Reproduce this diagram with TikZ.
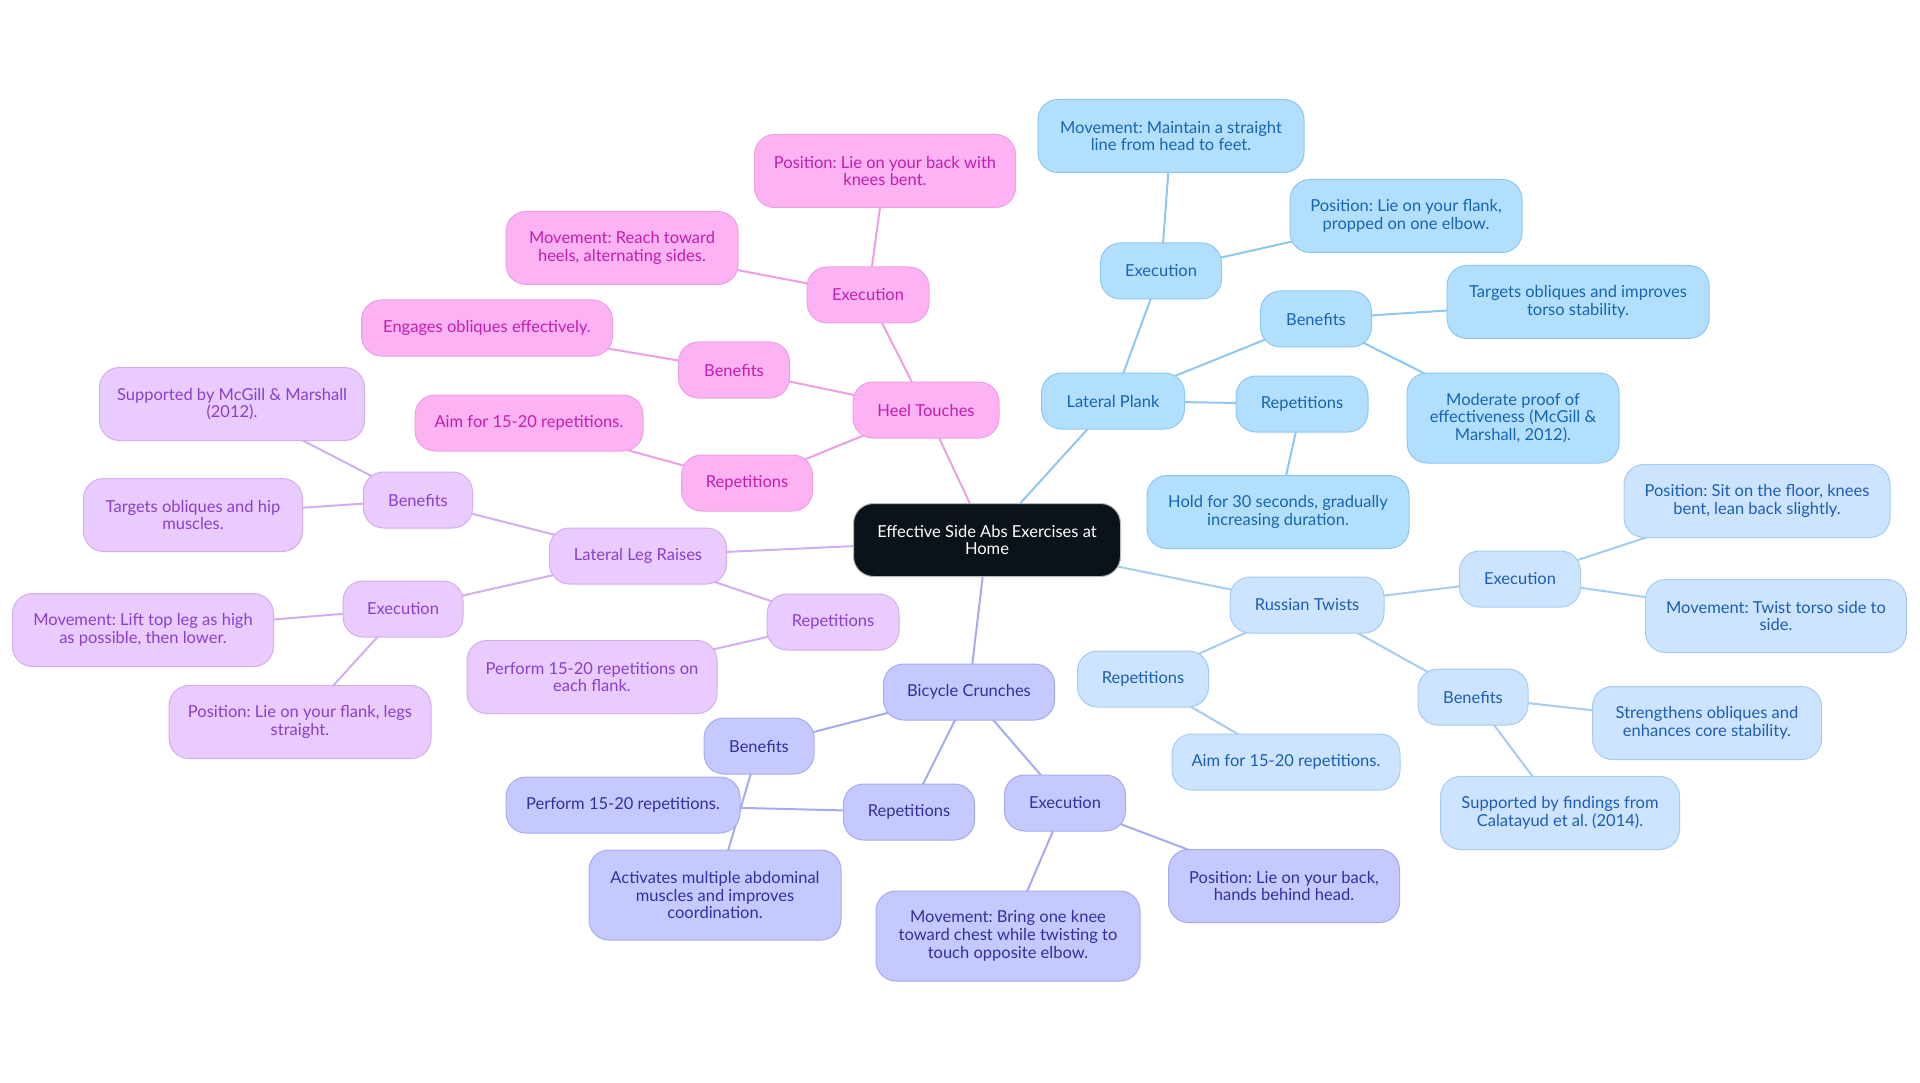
\documentclass[tikz,border=0pt]{standalone}
\usepackage{fontspec}
\setmainfont{Lato}
\usepackage{tikz}
\usetikzlibrary{backgrounds}
\frenchspacing
\definecolor{rootCol}{HTML}{0B1219}
\definecolor{pkFill}{HTML}{FDB3F3}
\definecolor{pkLine}{HTML}{EBA0E3}
\definecolor{pkText}{HTML}{C21DB0}
\definecolor{lvFill}{HTML}{EACBFF}
\definecolor{lvLine}{HTML}{D2AEF0}
\definecolor{lvText}{HTML}{8A3FCB}
\definecolor{pwFill}{HTML}{C6C9FF}
\definecolor{pwLine}{HTML}{A6AAF0}
\definecolor{pwText}{HTML}{30309F}
\definecolor{buFill}{HTML}{B3DFFF}
\definecolor{buLine}{HTML}{8FC7F0}
\definecolor{buText}{HTML}{1565B0}
\definecolor{skFill}{HTML}{CCE4FF}
\definecolor{skLine}{HTML}{A6CBF0}
\definecolor{skText}{HTML}{1C5DB5}
\tikzset{
  box/.style={draw, line width=1pt, rounded corners=20pt, align=center, inner xsep=4pt,
              inner ysep=2pt, minimum height=56pt, font=\fontsize{16.5}{17.7}\selectfont},
  two/.style={minimum height=73pt},
  three/.style={minimum height=90pt},
  hub/.style={box, fill=rootCol, draw=gray!55, text=white},
  pk/.style={box, fill=pkFill, draw=pkLine, text=pkText},
  lv/.style={box, fill=lvFill, draw=lvLine, text=lvText},
  pw/.style={box, fill=pwFill, draw=pwLine, text=pwText},
  bu/.style={box, fill=buFill, draw=buLine, text=buText},
  sk/.style={box, fill=skFill, draw=skLine, text=skText},
  wire/.style={line width=2pt},
}

\begin{document}
\begin{tikzpicture}[x=1pt, y=-1pt]
  \useasboundingbox (0,0) rectangle (1920,1083);
  \node[hub, two, minimum width=267pt] (root) at (987,540) {Effective Side Abs Exercises at\\Home};

  % heel touches
  \node[pk, minimum width=146pt] (ht) at (926,410) {Heel Touches};
  \node[pk, minimum width=122pt] (htexe) at (868,295) {Execution};
  \node[pk, two, minimum width=261pt] (htpos) at (885,171) {Position: Lie on your back with\\knees bent.};
  \node[pk, two, minimum width=232pt] (htmov) at (622,248) {Movement: Reach toward\\heels, alternating sides.};
  \node[pk, minimum width=111pt] (htben) at (734,370) {Benefits};
  \node[pk, minimum width=251pt] (hteng) at (487,328) {Engages obliques effectively.};
  \node[pk, minimum width=131pt] (htrep) at (747,483) {Repetitions};
  \node[pk, minimum width=228pt] (htaim) at (529,423) {Aim for 15-20 repetitions.};

  % lateral leg raises
  \node[lv, minimum width=177pt] (llr) at (638,556) {Lateral Leg Raises};
  \node[lv, minimum width=109pt] (llrben) at (418,500) {Benefits};
  \node[lv, two, minimum width=265pt] (llrsup) at (232,404) {Supported by McGill \& Marshall\\(2012).};
  \node[lv, two, minimum width=219pt] (llrtar) at (193,515) {Targets obliques and hip\\muscles.};
  \node[lv, minimum width=120pt] (llrexe) at (403,609) {Execution};
  \node[lv, two, minimum width=261pt] (llrmov) at (143,630) {Movement: Lift top leg as high\\as possible, then lower.};
  \node[lv, two, minimum width=262pt] (llrpos) at (300,722) {Position: Lie on your flank, legs\\straight.};
  \node[lv, minimum width=132pt] (llrrep) at (833,622) {Repetitions};
  \node[lv, two, minimum width=250pt] (llrperf) at (592,677) {Perform 15-20 repetitions on\\each flank.};

  % bicycle crunches
  \node[pw, minimum width=171pt] (bc) at (969,692) {Bicycle Crunches};
  \node[pw, minimum width=110pt] (bcben) at (759,746) {Benefits};
  \node[pw, minimum width=234pt] (bcperf) at (623,805) {Perform 15-20 repetitions.};
  \node[pw, minimum width=131pt] (bcrep) at (909,812) {Repetitions};
  \node[pw, minimum width=121pt] (bcexe) at (1065,803) {Execution};
  \node[pw, three, minimum width=252pt] (bcact) at (715,895) {Activates multiple abdominal\\muscles and improves\\coordination.};
  \node[pw, three, minimum width=264pt] (bcmov) at (1008,936) {Movement: Bring one knee\\toward chest while twisting to\\touch opposite elbow.};
  \node[pw, two, minimum width=231pt] (bcpos) at (1284,886) {Position: Lie on your back,\\hands behind head.};

  % lateral plank
  \node[bu, minimum width=143pt] (lp) at (1113,401) {Lateral Plank};
  \node[bu, minimum width=121pt] (lpexe) at (1161,271) {Execution};
  \node[bu, two, minimum width=266pt] (lpmov) at (1171,136) {Movement: Maintain a straight\\line from head to feet.};
  \node[bu, two, minimum width=232pt] (lppos) at (1406,216) {Position: Lie on your flank,\\propped on one elbow.};
  \node[bu, minimum width=111pt] (lpben) at (1316,319) {Benefits};
  \node[bu, two, minimum width=262pt] (lptar) at (1578,302) {Targets obliques and improves\\torso stability.};
  \node[bu, three, minimum width=212pt] (lpmod) at (1513,418) {Moderate proof of\\effectiveness (McGill \&\\Marshall, 2012).};
  \node[bu, minimum width=132pt] (lprep) at (1302,404) {Repetitions};
  \node[bu, two, minimum width=262pt] (lphold) at (1278,512) {Hold for 30 seconds, gradually\\increasing duration.};

  % russian twists
  \node[sk, minimum width=154pt] (rt) at (1307,605) {Russian Twists};
  \node[sk, minimum width=121pt] (rtexe) at (1520,579) {Execution};
  \node[sk, two, minimum width=266pt] (rtpos) at (1757,501) {Position: Sit on the floor, knees\\bent, lean back slightly.};
  \node[sk, two, minimum width=261pt] (rtmov) at (1776,616) {Movement: Twist torso side to\\side.};
  \node[sk, minimum width=131pt] (rtrep) at (1143,679) {Repetitions};
  \node[sk, minimum width=228pt] (rtaim) at (1286,762) {Aim for 15-20 repetitions.};
  \node[sk, minimum width=110pt] (rtben) at (1473,697) {Benefits};
  \node[sk, two, minimum width=229pt] (rtstr) at (1707,723) {Strengthens obliques and\\enhances core stability.};
  \node[sk, two, minimum width=239pt] (rtsup) at (1560,813) {Supported by findings from\\Calatayud et al. (2014).};

  \begin{scope}[on background layer]
    \foreach \a/\b in {root/ht,ht/htexe,htexe/htpos,htexe/htmov,ht/htben,htben/hteng,ht/htrep,htrep/htaim}
      \draw[wire, pkLine] (\a.center) -- (\b.center);
    \foreach \a/\b in {root/llr,llr/llrben,llrben/llrsup,llrben/llrtar,llr/llrexe,llrexe/llrmov,llrexe/llrpos,llr/llrrep,llrrep/llrperf}
      \draw[wire, lvLine] (\a.center) -- (\b.center);
    \foreach \a/\b in {root/bc,bc/bcben,bcben/bcact,bc/bcrep,bcrep/bcperf,bc/bcexe,bcexe/bcmov,bcexe/bcpos}
      \draw[wire, pwLine] (\a.center) -- (\b.center);
    \foreach \a/\b in {root/lp,lp/lpexe,lpexe/lpmov,lpexe/lppos,lp/lpben,lpben/lptar,lpben/lpmod,lp/lprep,lprep/lphold}
      \draw[wire, buLine] (\a.center) -- (\b.center);
    \foreach \a/\b in {root/rt,rt/rtexe,rtexe/rtpos,rtexe/rtmov,rt/rtrep,rtrep/rtaim,rt/rtben,rtben/rtstr,rtben/rtsup}
      \draw[wire, skLine] (\a.center) -- (\b.center);
  \end{scope}
\end{tikzpicture}
\end{document}
